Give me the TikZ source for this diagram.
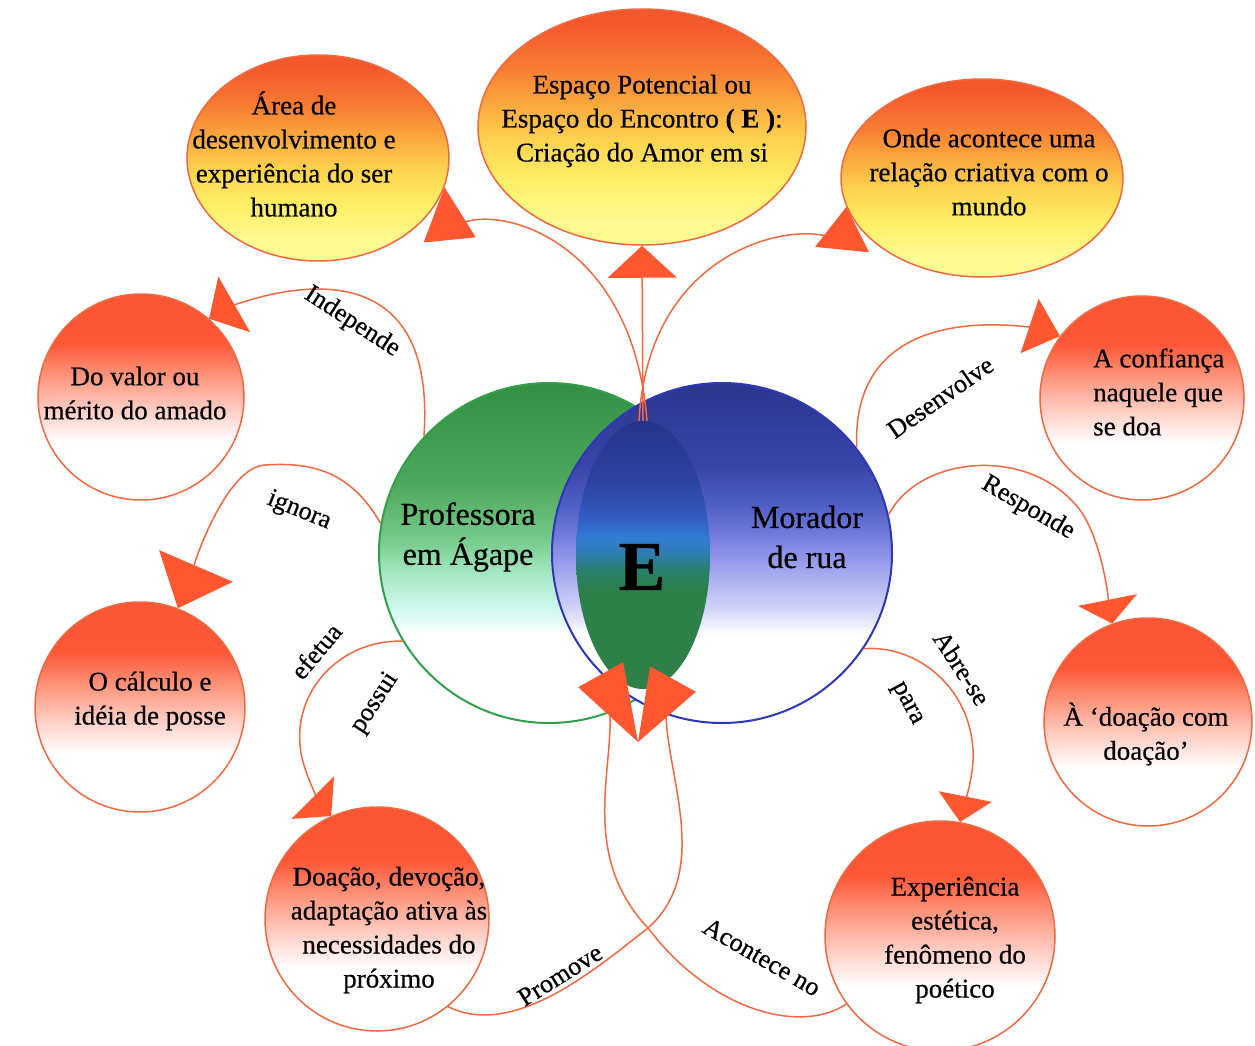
\documentclass[tikz,border=0pt]{standalone}
\usepackage{fontspec}
\setmainfont{Liberation Serif}[FakeBold=0.5]
\usetikzlibrary{arrows.meta,shapes.geometric,calc}

% colours
\definecolor{linered}{RGB}{240,105,65}
\definecolor{tipred}{RGB}{255,88,48}
\definecolor{profline}{RGB}{50,160,75}
\definecolor{morline}{RGB}{45,55,185}
% red bubbles
\definecolor{rb1}{RGB}{255,205,195}
\definecolor{rb2}{RGB}{253,150,125}
\definecolor{rb3}{RGB}{252,88,55}
\definecolor{rb4}{RGB}{245,80,48}
% yellow bubbles
\definecolor{yb0}{RGB}{255,250,145}
\definecolor{yb1}{RGB}{255,240,105}
\definecolor{yb2}{RGB}{253,212,80}
\definecolor{yb3}{RGB}{250,168,62}
\definecolor{yb4}{RGB}{247,122,50}
\definecolor{yb5}{RGB}{243,88,45}
% green circle
\definecolor{gc1}{RGB}{205,248,238}
\definecolor{gc2}{RGB}{165,232,195}
\definecolor{gc3}{RGB}{118,202,138}
\definecolor{gc4}{RGB}{78,168,92}
\definecolor{gc5}{RGB}{52,142,68}
% blue circle
\definecolor{bc1}{RGB}{208,210,248}
\definecolor{bc2}{RGB}{165,170,238}
\definecolor{bc3}{RGB}{120,128,222}
\definecolor{bc4}{RGB}{80,94,198}
\definecolor{bc5}{RGB}{56,68,168}
\definecolor{bc6}{RGB}{44,54,142}
% meeting space
\definecolor{lc0}{RGB}{44,128,72}
\definecolor{lc1}{RGB}{40,128,105}
\definecolor{lc2}{RGB}{45,125,170}
\definecolor{lc3}{RGB}{50,125,212}
\definecolor{lc4}{RGB}{50,92,195}
\definecolor{lc5}{RGB}{44,66,160}
\definecolor{lc6}{RGB}{40,52,138}

\pgfdeclareverticalshading{redball}{100bp}{color(0bp)=(white); color(39bp)=(white); color(47bp)=(rb1); color(55bp)=(rb2); color(63bp)=(rb3); color(100bp)=(rb4)}
\pgfdeclareverticalshading{yelball}{100bp}{color(0bp)=(yb0); color(30bp)=(yb0); color(38bp)=(yb1); color(47bp)=(yb2); color(55bp)=(yb3); color(63bp)=(yb4); color(72bp)=(yb5); color(100bp)=(yb5)}
\pgfdeclareverticalshading{profball}{100bp}{color(0bp)=(white); color(38bp)=(white); color(42bp)=(gc1); color(47bp)=(gc2); color(52bp)=(gc3); color(60bp)=(gc4); color(75bp)=(gc5); color(100bp)=(gc5)}
\pgfdeclareverticalshading{morball}{100bp}{color(0bp)=(white); color(38bp)=(white); color(42bp)=(bc1); color(47bp)=(bc2); color(52bp)=(bc3); color(57bp)=(bc4); color(63bp)=(bc5); color(75bp)=(bc6); color(100bp)=(bc6)}
\pgfdeclareverticalshading{encball}{100bp}{color(0bp)=(lc0); color(43bp)=(lc0); color(47bp)=(lc1); color(50bp)=(lc2); color(53bp)=(lc3); color(57bp)=(lc4); color(64bp)=(lc5); color(75bp)=(lc6); color(100bp)=(lc6)}

\tikzset{
  conn/.style={draw=linered, line width=1.5pt},
  bigtip/.style 2 args={-{Triangle[length=#1,width=#2,color=tipred]}},
  redbub/.style={circle, draw=linered, line width=1.5pt, inner sep=0pt, shade, shading=redball},
  yelbub/.style={ellipse, draw=linered, line width=1.5pt, inner sep=0pt, shade, shading=yelball},
  bubtext/.style={font=\fontsize{27}{34}\selectfont, align=center, inner sep=0pt},
  arclabel/.style={font=\fontsize{26}{30}\selectfont, inner sep=0pt},
}

\begin{document}
\begin{tikzpicture}[x=1pt,y=-1pt]
    % page
    \path[use as bounding box, fill=white] (0,0) rectangle (1255,1046);

    % Draw the two main circles and the meeting space E
    \node[circle, minimum size=340pt, inner sep=0pt, draw=profline, line width=2pt, shade, shading=profball] (prof) at (549,553) {};
    \node[circle, minimum size=340pt, inner sep=0pt, draw=morline, line width=2pt, shade, shading=morball] (morador) at (722,553) {};
    \node[ellipse, minimum width=134pt, minimum height=268pt, inner sep=0pt, shade, shading=encball] (enc) at (643,555) {};

    \node[font=\fontsize{32}{40}\selectfont, align=center, inner sep=0pt] (proftxt) at (468,537) {Professora\\em Ágape};
    \node[font=\fontsize{32}{40}\selectfont, align=center, inner sep=0pt] (mortxt) at (807,537) {Morador\\de rua};
    \node[font=\fontsize{70}{80}\selectfont\bfseries, inner sep=0pt] (enctxt) at (642,567) {E};
    \coordinate (encfoot) at (638,742);

    % Upper bubbles
    \node[yelbub, minimum width=262pt, minimum height=206pt] (area) at (318,158) {};
    \node[bubtext] (areatxt) at (294,154) {Área de\\desenvolvimento e\\experiência do ser\\humano};

    \node[yelbub, minimum width=328pt, minimum height=236pt] (espaco) at (642,127) {};
    \node[bubtext] (espacotxt) at (642,121) {Espaço Potencial ou\\Espaço do Encontro \textbf{( E )}:\\Criação do Amor em si};

    \node[yelbub, minimum width=282pt, minimum height=198pt] (onde) at (982,178) {};
    \node[bubtext] (ondetxt) at (989,172) {Onde acontece uma\\relação criativa com o\\mundo};

    % Left bubbles
    \node[redbub, minimum size=206pt] (valor) at (141,397) {};
    \node[bubtext] (valortxt) at (135,393) {Do valor ou\\mérito do amado};

    \node[redbub, minimum size=210pt] (calculo) at (140,707) {};
    \node[bubtext] (calculotxt) at (150,701) {O cálculo e\\idéia de posse};

    \node[redbub, minimum size=224pt] (doacao) at (377,919) {};
    \node[bubtext] (doacaotxt) at (389,930) {Doação, devoção,\\adaptação ativa às\\necessidades do\\próximo};

    % Right bubbles
    \node[redbub, minimum size=204pt] (confianca) at (1142,398) {};
    \node[bubtext, align=left, anchor=west] (confiancatxt) at (1093,392) {A confiança\\naquele que\\se doa};

    \node[redbub, minimum size=208pt] (doacom) at (1148,722) {};
    \node[bubtext] (doacomtxt) at (1146,734) {À ‘doação com\\doação’};

    \node[redbub, minimum size=230pt] (exper) at (940,936) {};
    \node[bubtext] (expertxt) at (955,940) {Experiência\\estética,\\fenômeno do\\poético};

    % Connectors out of E
    \draw[conn, bigtip={53pt}{52pt}] ([xshift=4pt]enc.north) .. controls (630,205) and ($(area.-13)+(1,10)$) .. (area.-13);
    \draw[conn, bigtip={32pt}{69pt}] (enc.north) -- (espaco.south);
    \draw[conn, bigtip={43pt}{54pt}] ([xshift=-4pt]enc.north) .. controls (650,219) and ($(onde.192)+(-1,10)$) .. (onde.192);

    % Connectors out of Professora
    \draw[conn, bigtip={29pt}{64pt}] (prof.137) .. controls (440,210) and ($(valor.49)+(7,-4)$) .. (valor.49);
    \draw[conn, bigtip={46pt}{80pt}] (prof.170) .. controls (350,470) and (310,462) .. (265,465)
        .. controls (220,467) and ($(calculo.69)+(3,-7)$) .. (calculo.69);
    \draw[conn, bigtip={26pt}{60pt}] (prof.211) .. controls (340,640) and (295,690) .. (300,745)
        .. controls (302,775) and ($(doacao.114)+(-4,-4)$) .. (doacao.114);

    % Connectors out of Morador
    \draw[conn, bigtip={32pt}{57pt}] (morador.38) .. controls (850,284) and ($(confianca.143)+(-6,-2)$) .. (confianca.143);
    \draw[conn, bigtip={24pt}{60pt}] (morador.13) .. controls (920,455) and (1030,445) .. (1080,510)
        .. controls (1105,545) and ($(doacom.110)+(-1,-5)$) .. (doacom.110);
    \draw[conn, bigtip={26pt}{54pt}] (morador.-34) .. controls (920,645) and (970,690) .. (973,750)
        .. controls (975,775) and ($(exper.80)+(1,-5)$) .. (exper.80);

    % Loop back under E
    \draw[conn, bigtip={72pt}{52pt}] (doacao.-51) .. controls (515,1040) and (600,965) .. (648,928)
        .. controls (725,860) and ($(encfoot)+(5,-9)$) .. (encfoot);
    \draw[conn, bigtip={77pt}{51pt}] (exper.216) .. controls (800,1035) and (710,1010) .. (648,928)
        .. controls (565,840) and ($(encfoot)+(-5,-9)$) .. (encfoot);

    % Labels on the connectors
    \node[arclabel, rotate=-33] (lindep) at (352,322) {Independe};
    \node[arclabel, rotate=-22] (lignora) at (299,511) {ignora};
    \node[arclabel, rotate=50] (lefetua) at (316,651) {efetua};
    \node[arclabel, rotate=57] (lpossui) at (375,703) {possui};
    \node[arclabel, rotate=32] (lpromove) at (560,975) {Promove};
    \node[arclabel, rotate=-30] (lacontece) at (762,957) {Acontece no};
    \node[arclabel, rotate=35] (ldesenv) at (940,397) {Desenvolve};
    \node[arclabel, rotate=-30] (lresponde) at (1028,508) {Responde};
    \node[arclabel, rotate=-57] (labre) at (962,668) {Abre-se};
    \node[arclabel, rotate=-62] (lpara) at (906,704) {para};
\end{tikzpicture}
\end{document}
